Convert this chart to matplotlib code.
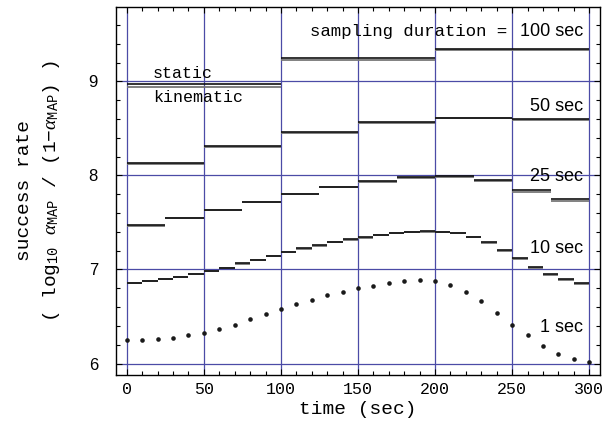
import matplotlib
matplotlib.use("Agg")
import matplotlib.pyplot as plt
from matplotlib.ticker import MultipleLocator

plt.rcParams['mathtext.fontset'] = 'custom'
plt.rcParams['mathtext.rm'] = 'Liberation Mono'
plt.rcParams['mathtext.it'] = 'Liberation Serif:italic'

MONO = 'Liberation Mono'
SANS = 'Liberation Sans'

# 1 sec sampling: one value every 10 sec
t_1sec = list(range(0, 301, 10))
rate_1sec = [6.255, 6.255, 6.26, 6.27, 6.30, 6.33, 6.365, 6.41, 6.47, 6.53, 6.585,
             6.63, 6.68, 6.73, 6.76, 6.80, 6.825, 6.855, 6.875, 6.885, 6.875,
             6.83, 6.76, 6.66, 6.54, 6.41, 6.30, 6.19, 6.105, 6.05, 6.015]

# windowed sampling durations: (static, kinematic) value per window
rate_10sec_static = [6.858, 6.879, 6.900, 6.925, 6.953, 6.988, 7.020, 7.066, 7.105, 7.148,
                     7.190, 7.225, 7.257, 7.293, 7.320, 7.343, 7.368, 7.390, 7.403, 7.406,
                     7.403, 7.390, 7.346, 7.290, 7.204, 7.119, 7.027, 6.953, 6.896, 6.853]
rate_10sec_kin = [6.855, 6.876, 6.897, 6.922, 6.950, 6.985, 7.017, 7.063, 7.102, 7.145,
                  7.187, 7.222, 7.254, 7.290, 7.317, 7.340, 7.365, 7.387, 7.400, 7.403,
                  7.400, 7.386, 7.341, 7.284, 7.197, 7.112, 7.018, 6.942, 6.885, 6.842]
rate_25sec_static = [7.470, 7.548, 7.633, 7.720, 7.807, 7.880, 7.937, 7.980, 7.990, 7.950, 7.849, 7.753]
rate_25sec_kin = [7.465, 7.543, 7.628, 7.715, 7.802, 7.875, 7.932, 7.975, 7.985, 7.940, 7.820, 7.725]
rate_50sec_static = [8.133, 8.313, 8.462, 8.568, 8.614, 8.596]
rate_50sec_kin = [8.122, 8.303, 8.452, 8.562, 8.608, 8.585]
rate_100sec_static = [8.968, 9.244, 9.344]
rate_100sec_kin = [8.940, 9.223, 9.336]

windows = [(10, rate_10sec_static, rate_10sec_kin),
           (25, rate_25sec_static, rate_25sec_kin),
           (50, rate_50sec_static, rate_50sec_kin),
           (100, rate_100sec_static, rate_100sec_kin)]

fig = plt.figure(figsize=(6.15, 4.41), dpi=100)
ax = fig.add_axes([0.1886, 0.150, 0.787, 0.834])

grid_c = '#4b4ba6'
for x in range(0, 301, 50):
    ax.axvline(x, color=grid_c, lw=0.9, zorder=1)
for y in [6, 7, 8, 9]:
    ax.axhline(y, color=grid_c, lw=0.9, zorder=1)

# kinematic first (gray, a touch lower), static on top in black
for width, static, kin in windows:
    starts = [i * width for i in range(len(static))]
    ends = [s + width for s in starts]
    ax.hlines(kin, starts, ends, colors='#777777', lw=1.3, zorder=2)
    ax.hlines(static, starts, ends, colors='#111111', lw=1.2, zorder=3)

ax.plot(t_1sec, rate_1sec, 'o', ms=3.3, color='#1a1a1a', mec='none', zorder=3)

ax.set_xlim(-7, 307)
ax.set_ylim(5.88, 9.79)

ax.xaxis.set_major_locator(MultipleLocator(50))
ax.xaxis.set_minor_locator(MultipleLocator(10))
ax.yaxis.set_major_locator(MultipleLocator(1))
ax.yaxis.set_minor_locator(MultipleLocator(0.2))
ax.tick_params(which='both', direction='in', top=True, right=True, width=0.8)
ax.tick_params(which='major', length=4)
ax.tick_params(which='minor', length=3)
ax.tick_params(axis='x', pad=5)
ax.tick_params(axis='y', pad=13)
for lab in ax.get_xticklabels():
    lab.set_fontfamily(MONO)
    lab.set_fontsize(12)
for lab in ax.get_yticklabels():
    lab.set_fontfamily(SANS)
    lab.set_fontsize(12)
for sp in ax.spines.values():
    sp.set_linewidth(1.0)

ax.set_xlabel('time (sec)', fontfamily=MONO, fontsize=14, labelpad=3)
ax.set_ylabel('success rate\n' + r'( log$_{10}$ $\alpha_{\mathrm{MAP}}$ / (1$-\alpha_{\mathrm{MAP}}$) )',
              fontfamily=MONO, fontsize=14, linespacing=1.55, labelpad=19)

ax.text(17, 9.08, 'static', fontfamily=MONO, fontsize=12, va='center', ha='left')
ax.text(17, 8.83, 'kinematic', fontfamily=MONO, fontsize=12, va='center', ha='left')
ax.text(247, 9.53, 'sampling duration =', fontfamily=MONO, fontsize=12.5, va='center', ha='right')
ax.text(296, 9.53, '100 sec', fontfamily=SANS, fontsize=13, va='center', ha='right')
ax.text(296, 8.73, '50 sec', fontfamily=SANS, fontsize=13, va='center', ha='right')
ax.text(296, 7.99, '25 sec', fontfamily=SANS, fontsize=13, va='center', ha='right')
ax.text(296, 7.22, '10 sec', fontfamily=SANS, fontsize=13, va='center', ha='right')
ax.text(296, 6.38, '1 sec', fontfamily=SANS, fontsize=13, va='center', ha='right')

fig.savefig('out.png', dpi=100)
